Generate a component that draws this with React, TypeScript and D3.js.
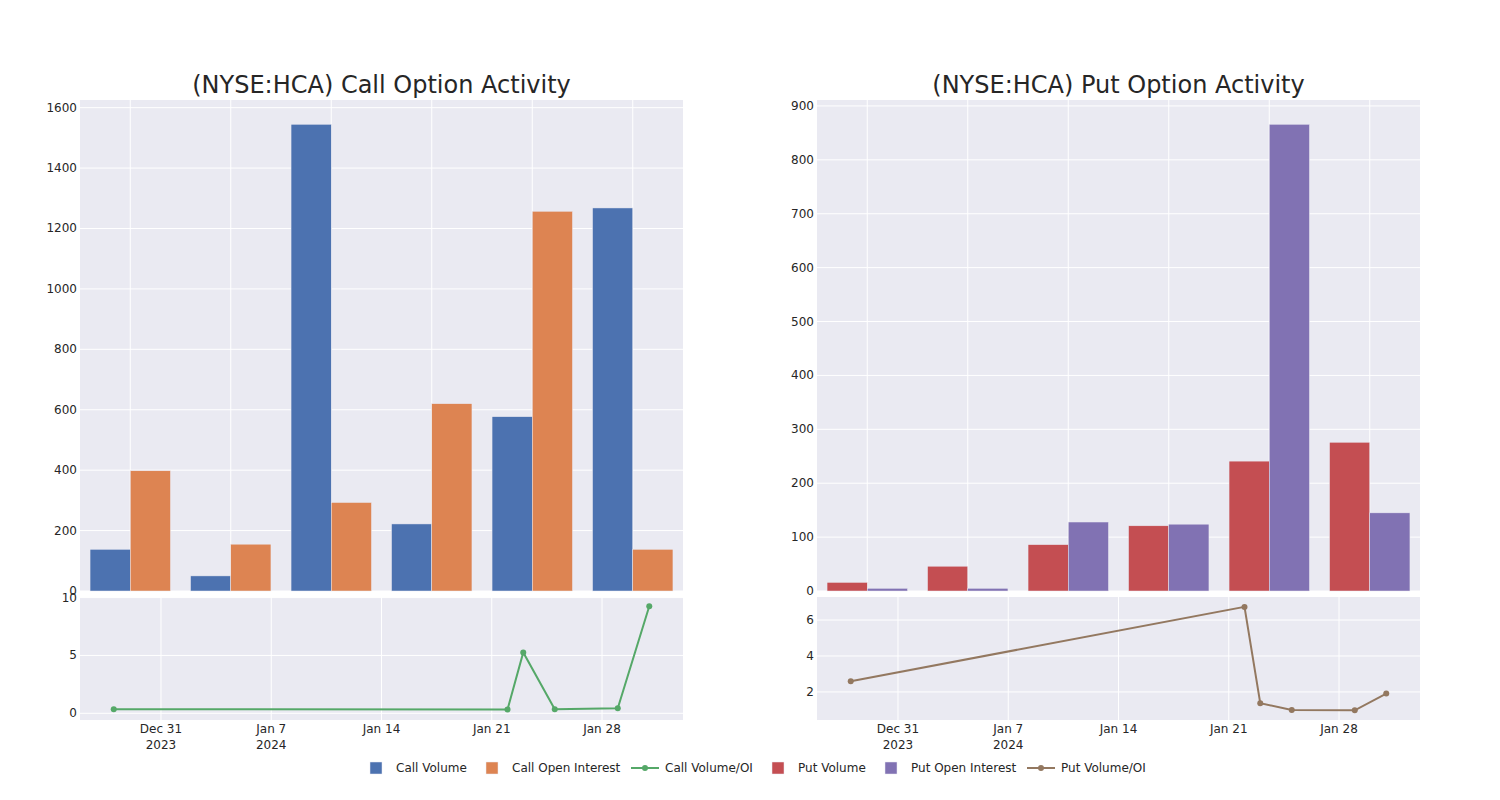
import React from 'react';
import * as d3 from 'd3';

const dates = ['2023-12-28', '2024-01-22', '2024-01-23', '2024-01-25', '2024-01-29', '2024-01-31'];
const callVolume = [138, 50, 1545, 222, 577, 1268];
const callOpenInterest = [398, 155, 293, 620, 1257, 138];
const callRatio = [0.35, 0.32, 5.26, 0.35, 0.44, 9.25];
const putVolume = [16, 46, 86, 121, 241, 276];
const putOpenInterest = [5, 5, 128, 124, 866, 145];
const putRatio = [2.6, 6.73, 1.37, 1.0, 0.98, 1.91];

const callBarTicks = [0, 200, 400, 600, 800, 1000, 1200, 1400, 1600];
const putBarTicks = [0, 100, 200, 300, 400, 500, 600, 700, 800, 900];
const callRatioTicks = [0, 5, 10];
const putRatioTicks = [2, 4, 6];

const legendItems = [
  { label: 'Call Volume', color: '#4C72B0', kind: 'bar', x: 370 },
  { label: 'Call Open Interest', color: '#DD8452', kind: 'bar', x: 486 },
  { label: 'Call Volume/OI', color: '#55A868', kind: 'line', x: 631 },
  { label: 'Put Volume', color: '#C44E52', kind: 'bar', x: 772 },
  { label: 'Put Open Interest', color: '#8172B3', kind: 'bar', x: 885 },
  { label: 'Put Volume/OI', color: '#937860', kind: 'line', x: 1027 },
];

const parseDate = (s: string) => {
  const [y, m, d] = s.split('-').map(Number);
  return new Date(y, m - 1, d);
};

const FONT = '"DejaVu Sans", Verdana, sans-serif';
const TEXT = '#262626';
const BG = '#EAEAF2';

const topY0 = 100;
const topY1 = 591;
const botY0 = 597;
const botY1 = 720;

interface PanelProps {
  left: number;
  right: number;
  title: string;
  volume: number[];
  oi: number[];
  ratio: number[];
  barTicks: number[];
  ratioTicks: number[];
  ratioDomain: [number, number];
  colors: [string, string, string];
}

const Panel: React.FC<PanelProps> = ({
  left,
  right,
  title,
  volume,
  oi,
  ratio,
  barTicks,
  ratioTicks,
  ratioDomain,
  colors,
}) => {
  const idx = dates.map((_, i) => String(i));
  const xCat = d3.scalePoint<string>().domain(idx).range([left, right]).padding(0.5);
  const step = xCat.step();
  const barW = step * 0.4;

  const maxBar = d3.max([...volume, ...oi]) || 0;
  const yBar = d3.scaleLinear().domain([0, maxBar * 1.052]).range([topY1, topY0]);

  const parsed = dates.map(parseDate);
  const [d0, d1] = d3.extent(parsed) as [Date, Date];
  const pad = (d1.getTime() - d0.getTime()) * 0.063;
  const xDate = d3
    .scaleTime()
    .domain([new Date(d0.getTime() - pad), new Date(d1.getTime() + pad)])
    .range([left, right]);
  const yRatio = d3.scaleLinear().domain(ratioDomain).range([botY1, botY0]);

  const weekTicks = d3.timeWeek.range(xDate.domain()[0], xDate.domain()[1]);
  const fmt = d3.timeFormat('%b %-d');

  const line = d3
    .line<number>()
    .x((_, i) => xDate(parsed[i]))
    .y((d) => yRatio(d));

  const cx = (left + right) / 2;
  let prevYear: number | null = null;

  return (
    <g>
      <text x={cx} y={93} textAnchor="middle" fontSize={24} fill={TEXT} fontFamily={FONT}>
        {title}
      </text>

      {/* top bars */}
      <rect x={left} y={topY0} width={right - left} height={topY1 - topY0} fill={BG} />
      {barTicks.map((t) => (
        <g key={t}>
          <line x1={left} x2={right} y1={yBar(t)} y2={yBar(t)} stroke="#fff" strokeWidth={1} />
          <text x={left - 3} y={yBar(t) + 4} textAnchor="end" fontSize={12} fill={TEXT} fontFamily={FONT}>
            {t}
          </text>
        </g>
      ))}
      {idx.map((c) => (
        <line key={c} x1={xCat(c)} x2={xCat(c)} y1={topY0} y2={topY1} stroke="#fff" strokeWidth={1} />
      ))}
      {idx.map((c, i) => (
        <g key={'b' + c}>
          <rect
            x={(xCat(c) as number) - barW}
            y={yBar(volume[i])}
            width={barW}
            height={topY1 - yBar(volume[i])}
            fill={colors[0]}
            stroke={BG}
            strokeWidth={0.5}
          />
          <rect
            x={xCat(c) as number}
            y={yBar(oi[i])}
            width={barW}
            height={topY1 - yBar(oi[i])}
            fill={colors[1]}
            stroke={BG}
            strokeWidth={0.5}
          />
        </g>
      ))}

      {/* bottom ratio */}
      <rect x={left} y={botY0} width={right - left} height={botY1 - botY0} fill={BG} />
      {ratioTicks.map((t) => (
        <g key={t}>
          <line x1={left} x2={right} y1={yRatio(t)} y2={yRatio(t)} stroke="#fff" strokeWidth={1} />
          <text x={left - 3} y={yRatio(t) + 4} textAnchor="end" fontSize={12} fill={TEXT} fontFamily={FONT}>
            {t}
          </text>
        </g>
      ))}
      {weekTicks.map((d) => {
        const yr = d.getFullYear();
        const showYear = yr !== prevYear;
        prevYear = yr;
        return (
          <g key={d.getTime()}>
            <line x1={xDate(d)} x2={xDate(d)} y1={botY0} y2={botY1} stroke="#fff" strokeWidth={1} />
            <text x={xDate(d)} y={733} textAnchor="middle" fontSize={12} fill={TEXT} fontFamily={FONT}>
              {fmt(d)}
            </text>
            {showYear && (
              <text x={xDate(d)} y={749} textAnchor="middle" fontSize={12} fill={TEXT} fontFamily={FONT}>
                {yr}
              </text>
            )}
          </g>
        );
      })}
      <path d={line(ratio) || ''} fill="none" stroke={colors[2]} strokeWidth={2} />
      {ratio.map((v, i) => (
        <circle key={i} cx={xDate(parsed[i])} cy={yRatio(v)} r={3} fill={colors[2]} />
      ))}
    </g>
  );
};

export default function App() {
  return (
    <div style={{ position: 'absolute', left: 0, top: 0 }}>
      <svg width={1500} height={800} style={{ display: 'block', background: '#fff' }}>
        <Panel
          left={80}
          right={683}
          title="(NYSE:HCA) Call Option Activity"
          volume={callVolume}
          oi={callOpenInterest}
          ratio={callRatio}
          barTicks={callBarTicks}
          ratioTicks={callRatioTicks}
          ratioDomain={[-0.58, 10.05]}
          colors={['#4C72B0', '#DD8452', '#55A868']}
        />
        <Panel
          left={817}
          right={1420}
          title="(NYSE:HCA) Put Option Activity"
          volume={putVolume}
          oi={putOpenInterest}
          ratio={putRatio}
          barTicks={putBarTicks}
          ratioTicks={putRatioTicks}
          ratioDomain={[0.44, 7.28]}
          colors={['#C44E52', '#8172B3', '#937860']}
        />
        {legendItems.map((it) => (
          <g key={it.label} transform={`translate(${it.x},768)`}>
            {it.kind === 'bar' ? (
              <rect x={0} y={-6} width={12} height={12} fill={it.color} stroke={BG} strokeWidth={0.5} />
            ) : (
              <g>
                <line x1={0} x2={28} y1={0} y2={0} stroke={it.color} strokeWidth={2} />
                <circle cx={14} cy={0} r={3} fill={it.color} />
              </g>
            )}
            <text
              x={it.kind === 'bar' ? 26 : 34}
              y={4}
              fontSize={12}
              fill={TEXT}
              fontFamily={FONT}
            >
              {it.label}
            </text>
          </g>
        ))}
      </svg>
    </div>
  );
}
